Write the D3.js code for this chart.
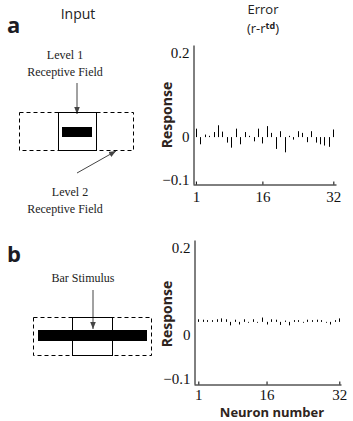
<!DOCTYPE html>
<html>
<head>
<meta charset="utf-8">
<script src="https://cdn.jsdelivr.net/npm/d3@7"></script>
<style>
  html, body { margin: 0; padding: 0; background: #fff; }
  svg { display: block; }
</style>
</head>
<body>
<svg id="chart"></svg>
<script>
// ── DATA ────────────────────────────────────────────────────────────────
const neurons = d3.range(1, 33);
const xTicks  = [1, 16, 32];
const yTicks  = [-0.1, 0, 0.2];

// panel a: error (r - r_td), stems from 0
const errorA = [
   0.020, -0.017,  0.006,  0.003,  0.012,  0.028,  0.013, -0.013,
  -0.025,  0.020, -0.017,  0.012,  0.003, -0.010,  0.020, -0.015,
   0.026,  0.010, -0.028,  0.014, -0.036,  0.003, -0.006,  0.014,
   0.010, -0.012,  0.014, -0.013, -0.017, -0.020, -0.023,  0.018
];

// panel b: small deviations around a baseline level
const baseB  = 0.030;
const errorB = [
  0.036, 0.035, 0.034, 0.034, 0.036, 0.038, 0.036, 0.022,
  0.035, 0.024, 0.036, 0.028, 0.036, 0.028, 0.040, 0.024,
  0.036, 0.035, 0.023, 0.033, 0.022, 0.034, 0.034, 0.028,
  0.035, 0.034, 0.035, 0.034, 0.028, 0.024, 0.034, 0.038
];

const SERIF = "'Liberation Serif', 'DejaVu Serif', serif";
const SANS  = "'Open Sans', 'DejaVu Sans', sans-serif";

// ── SVG ─────────────────────────────────────────────────────────────────
const W = 353, H = 421;
const svg = d3.select("#chart").attr("width", W).attr("height", H);

svg.append("defs").append("marker")
  .attr("id", "arrow")
  .attr("viewBox", "0 0 10 10")
  .attr("refX", 10).attr("refY", 5)
  .attr("markerWidth", 7).attr("markerHeight", 7)
  .attr("markerUnits", "userSpaceOnUse")
  .attr("orient", "auto")
  .append("path")
    .attr("d", "M0,1 L10,5 L0,9 Z")
    .attr("fill", "#444");

// ── PANEL LETTERS & TITLES ─────────────────────────────────────────────
svg.append("text").attr("font-family", SANS).attr("x", 7).attr("y", 33)
  .style("font-size", "22px").style("font-weight", "700").attr("fill", "#1c1c24").text("a");
svg.append("text").attr("font-family", SANS).attr("x", 7).attr("y", 262)
  .style("font-size", "22px").style("font-weight", "700").attr("fill", "#1c1c24").text("b");

svg.append("text").attr("font-family", SANS).attr("x", 78).attr("y", 19)
  .attr("text-anchor", "middle").style("font-size", "14px").style("font-weight", "500")
  .attr("fill", "#222").text("Input");

svg.append("text").attr("font-family", SANS).attr("x", 263).attr("y", 14)
  .attr("text-anchor", "middle").style("font-size", "13px").style("font-weight", "500")
  .attr("fill", "#222").text("Error");
const t2 = svg.append("text").attr("font-family", SANS).attr("x", 263).attr("y", 33)
  .attr("text-anchor", "middle").style("font-size", "13px").style("font-weight", "500")
  .attr("fill", "#222");
t2.append("tspan").text("(r-r");
t2.append("tspan").attr("dy", -4).style("font-size", "9px").style("font-weight", "700").text("td");
t2.append("tspan").attr("dy", 4).text(")");

// ── INPUT DIAGRAMS ──────────────────────────────────────────────────────
function serifText(x, y, s) {
  svg.append("text").attr("font-family", SERIF).attr("x", x).attr("y", y)
    .attr("text-anchor", "middle")
    .style("font-size", "12px").attr("fill", "#222").text(s);
}

// panel a
serifText(65, 59, "Level 1");
serifText(65, 76, "Receptive Field");
svg.append("line").attr("x1", 77).attr("y1", 83).attr("x2", 77).attr("y2", 114)
  .attr("stroke", "#444").attr("marker-end", "url(#arrow)");
svg.append("rect").attr("x", 19.5).attr("y", 112.5).attr("width", 114).attr("height", 38)
  .attr("fill", "none").attr("stroke", "#000").attr("stroke-dasharray", "4,3");
svg.append("rect").attr("x", 58.5).attr("y", 112.5).attr("width", 38).attr("height", 38)
  .attr("fill", "none").attr("stroke", "#000");
svg.append("rect").attr("x", 62).attr("y", 127).attr("width", 30).attr("height", 10).attr("fill", "#000");
svg.append("line").attr("x1", 77).attr("y1", 173).attr("x2", 116).attr("y2", 151)
  .attr("stroke", "#444").attr("marker-end", "url(#arrow)");
serifText(70, 196, "Level 2");
serifText(65, 213, "Receptive Field");

// panel b
serifText(83, 282, "Bar Stimulus");
svg.append("line").attr("x1", 93).attr("y1", 290).attr("x2", 93).attr("y2", 329)
  .attr("stroke", "#444").attr("marker-end", "url(#arrow)");
svg.append("rect").attr("x", 33.5).attr("y", 317.5).attr("width", 118).attr("height", 38)
  .attr("fill", "none").attr("stroke", "#000").attr("stroke-dasharray", "4,3");
svg.append("rect").attr("x", 72.5).attr("y", 317.5).attr("width", 40).attr("height", 38)
  .attr("fill", "none").attr("stroke", "#000");
svg.append("rect").attr("x", 38).attr("y", 330).attr("width", 109).attr("height", 11).attr("fill", "#000");

// ── RESPONSE PLOTS ─────────────────────────────────────────────────────
function responsePlot(opt) {
  const x = d3.scaleLinear().domain(opt.xDomain).range(opt.xRange);
  const y = d3.scaleLinear().domain(opt.yDomain).range(opt.yRange);
  const g = svg.append("g");

  // axes
  g.append("g")
    .attr("transform", `translate(0,${opt.yRange[0] + 0.5})`)
    .call(d3.axisBottom(x).tickValues(xTicks).tickSizeInner(-3).tickSizeOuter(0).tickPadding(opt.xPad))
    .call(ax => ax.select(".domain").attr("stroke", "#000"))
    .call(ax => ax.selectAll(".tick line").attr("stroke", "#000"))
    .call(ax => ax.selectAll(".tick text")
      .attr("font-family", SERIF).style("font-size", "15px").attr("fill", "#111"));

  g.append("g")
    .attr("transform", `translate(${opt.xRange[0] + 0.5},0)`)
    .call(d3.axisLeft(y).tickValues(yTicks).tickSize(0).tickPadding(4).tickFormat(d3.format("")))
    .call(ax => ax.select(".domain").attr("stroke", "#000"))
    .call(ax => ax.selectAll(".tick text")
      .attr("font-family", SERIF).style("font-size", "15px").attr("fill", "#111"));

  // stems
  g.selectAll(".stem")
    .data(neurons)
    .join("line")
      .attr("class", "stem")
      .attr("x1", d => Math.round(x(d)) + 0.5)
      .attr("x2", d => Math.round(x(d)) + 0.5)
      .attr("y1", () => y(opt.base))
      .attr("y2", (d, i) => y(opt.values[i]))
      .attr("stroke", "#000")
      .attr("stroke-width", 1);

  // y label
  g.append("text").attr("font-family", SANS)
    .attr("transform", `translate(${opt.labelX},${opt.labelY}) rotate(-90)`)
    .attr("text-anchor", "middle")
    .style("font-size", "14px").style("font-weight", "700")
    .attr("fill", "#2e2420").text("Response");
  return { x, y };
}

responsePlot({
  xDomain: [0.35, 32.6], xRange: [193, 336],
  yDomain: [-0.111, 0.218], yRange: [184, 45],
  values: errorA, base: 0, xPad: 7,
  labelX: 172, labelY: 115
});

responsePlot({
  xDomain: [0.05, 32.37], xRange: [194, 341],
  yDomain: [-0.1126, 0.218], yRange: [384, 240],
  values: errorB, base: baseB, xPad: 5,
  labelX: 172, labelY: 314
});

svg.append("text").attr("font-family", SANS)
  .attr("x", 272).attr("y", 417)
  .attr("text-anchor", "middle")
  .style("font-size", "13px").style("font-weight", "700")
  .attr("fill", "#2e2420").text("Neuron number");
</script>
</body>
</html>
